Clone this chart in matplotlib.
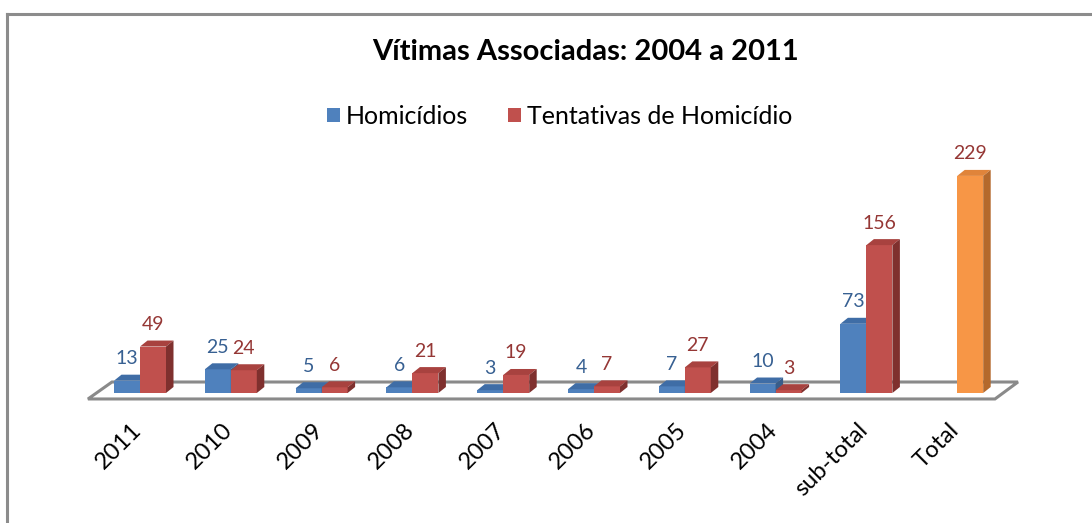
import matplotlib
matplotlib.use("Agg")
import matplotlib.pyplot as plt
from matplotlib.patches import Polygon, Patch
from matplotlib.lines import Line2D

plt.rcParams['font.family'] = ['Lato', 'DejaVu Sans']

# ---------------- data ----------------
categories = ['2011', '2010', '2009', '2008', '2007', '2006', '2005', '2004', 'sub-total', 'Total']
homicidios = [13, 25, 5, 6, 3, 4, 7, 10, 73, None]
tentativas = [49, 24, 6, 21, 19, 7, 27, 3, 156, 229]
series_names = ['Homicídios', 'Tentativas de Homicídio']
title = 'Vítimas Associadas: 2004 a 2011'

# ---------------- style ----------------
W, H = 1092, 523
front = {'blue': '#4F81BD', 'red': '#C0504D', 'orange': '#F79646'}
top = {'blue': '#3F6DA6', 'red': '#A8423F', 'orange': '#E0843A'}
side = {'blue': '#385D8A', 'red': '#7F302E', 'orange': '#B4692C'}
label_col = {'blue': '#376092', 'red': '#953735'}
red_colors = ['red'] * (len(categories) - 1) + ['orange']

fig = plt.figure(figsize=(W / 100, H / 100), dpi=100)
# axes: px 60..1040 horizontally, 140..480 vertically
ax = fig.add_axes([60 / W, 1 - 480 / H, 980 / W, 340 / H])
px_per_cat = 90.8
px_per_unit = 0.948
ax.set_xlim((60 - 140) / px_per_cat, (1040 - 140) / px_per_cat)
ax.set_ylim((393 - 480) / px_per_unit, (393 - 140) / px_per_unit)
ax.axis('off')

bw = 26 / px_per_cat          # bar width in category units
dx = 7.5 / px_per_cat          # depth offset x
dy = 6.0 / px_per_unit         # depth offset y

# floor
n = len(categories)
fl_front, fl_back = -6.3, 11.6
fl_left, fl_right = -0.573, n - 1 + 0.416
floor = Polygon([(fl_left, fl_front), (fl_right, fl_front),
                 (fl_right + 23 / px_per_cat, fl_back), (fl_left + 24 / px_per_cat, fl_back)],
                closed=True, facecolor='white', edgecolor='#8a8a8a', lw=2.2, zorder=1)
ax.add_patch(floor)


def bar3d(x0, h, key, z):
    x1 = x0 + bw
    ax.bar(x0, h, width=bw, align='edge', color=front[key], edgecolor='none', zorder=z)
    ax.add_patch(Polygon([(x0, h), (x1, h), (x1 + dx, h + dy), (x0 + dx, h + dy)],
                         closed=True, facecolor=top[key], edgecolor='none', zorder=z))
    ax.add_patch(Polygon([(x1, 0), (x1 + dx, dy), (x1 + dx, h + dy), (x1, h)],
                         closed=True, facecolor=side[key], edgecolor='none', zorder=z))


off_pt = 22 * 72 / 100
for i in range(n):
    z = 2 + i * 2
    hv = homicidios[i]
    tv = tentativas[i]
    if hv is not None:
        bar3d(i - bw, hv, 'blue', z)
        ax.annotate(str(hv), (i - bw / 2, hv), xytext=(0, off_pt), textcoords='offset points',
                    ha='center', va='center', fontsize=14, color=label_col['blue'], zorder=50)
    if tv is not None:
        bar3d(i, tv, red_colors[i], z + 1)
        ax.annotate(str(tv), (i + bw / 2, tv), xytext=(0, off_pt), textcoords='offset points',
                    ha='center', va='center', fontsize=14, color=label_col['red'], zorder=50)
    ax.annotate(categories[i], (i, 0), xytext=(-9 * 0.72, -26 * 0.72), textcoords='offset points',
                ha='right', va='top', rotation=45, rotation_mode='anchor',
                fontsize=17, color='black')

# title
fig.text(586 / W, 1 - 52 / H, title, ha='center', va='center', fontsize=21, fontweight='bold')

# legend
handles = [Patch(facecolor=front['blue'], edgecolor='none'),
           Patch(facecolor=front['red'], edgecolor='none')]
fig.legend(handles, series_names, loc='center', bbox_to_anchor=(560 / W, 1 - 116 / H),
           ncol=2, frameon=False, fontsize=18, handlelength=0.5, handleheight=0.5,
           handletextpad=0.25, columnspacing=1.6)

# outer border (top and left only, visible in the cropped chart)
fig.add_artist(Line2D([6.5 / W, 1], [1 - 13.5 / H, 1 - 13.5 / H], color='#8c8c8c', lw=2.2))
fig.add_artist(Line2D([6.5 / W, 6.5 / W], [0, 1 - 13.5 / H], color='#8c8c8c', lw=2.2))

fig.savefig('out.png', dpi=100, facecolor='white')
